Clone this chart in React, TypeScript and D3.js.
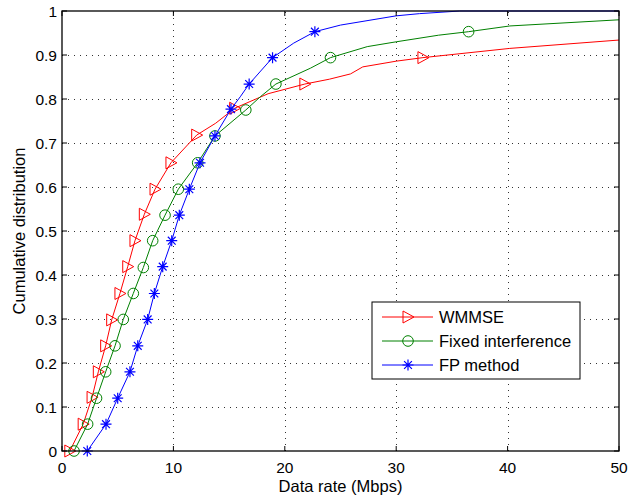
import React, { useEffect, useRef } from 'react';
import * as d3 from 'd3';

// series (x in Mbps, y = cumulative distribution)
const wmmseX = [0.7, 1.9, 2.7, 3.26, 3.92, 4.46, 5.2, 5.9, 6.55, 7.39, 8.35, 9.78, 12.09, 13.8, 15.5, 18.5, 21.8, 24, 25.9, 27, 30, 32.4, 40.2, 50];
const wmmseY = [0, 0.061, 0.122, 0.18, 0.239, 0.298, 0.358, 0.419, 0.478, 0.538, 0.595, 0.655, 0.718, 0.745, 0.779, 0.812, 0.834, 0.845, 0.857, 0.873, 0.886, 0.894, 0.915, 0.934];
const wmmseMarks = [0, 1, 2, 3, 4, 5, 6, 7, 8, 9, 10, 11, 12, 14, 16, 21];

const fixedX = [1.08, 2.3, 3.1, 3.92, 4.76, 5.5, 6.4, 7.3, 8.14, 9.25, 10.44, 12.18, 13.73, 16.5, 17.8, 19.2, 22.3, 24.1, 27.4, 30, 33.8, 36.5, 40.2, 50];
const fixedY = [0, 0.061, 0.12, 0.18, 0.239, 0.299, 0.358, 0.417, 0.478, 0.536, 0.595, 0.655, 0.716, 0.775, 0.805, 0.834, 0.87, 0.894, 0.919, 0.93, 0.945, 0.953, 0.966, 0.98];
const fixedMarks = [0, 1, 2, 3, 4, 5, 6, 7, 8, 9, 10, 11, 12, 13, 15, 17, 21];

const fpX = [2.27, 3.95, 5.0, 6.1, 6.8, 7.69, 8.29, 9.04, 9.85, 10.53, 11.43, 12.39, 13.73, 15.17, 16, 16.8, 18.9, 20.8, 22.7, 25, 30, 32.1, 35.7, 50];
const fpY = [0, 0.061, 0.12, 0.18, 0.239, 0.299, 0.358, 0.419, 0.478, 0.536, 0.595, 0.655, 0.716, 0.777, 0.805, 0.834, 0.894, 0.927, 0.953, 0.968, 0.989, 0.994, 1.0, 1.0];
const fpMarks = [0, 1, 2, 3, 4, 5, 6, 7, 8, 9, 10, 11, 12, 13, 15, 16, 18];

const xTicks = [0, 10, 20, 30, 40, 50];
const yTicks = [0, 0.1, 0.2, 0.3, 0.4, 0.5, 0.6, 0.7, 0.8, 0.9, 1];

const seriesNames = ['WMMSE', 'Fixed interference', 'FP method'];
const seriesColors = ['#ff0000', '#008000', '#0000ff'];
const seriesMarkers = ['triangle', 'circle', 'star'];

const W = 630;
const H = 495;
const margin = { left: 62, right: 11, top: 11, bottom: 44 };
const FONT = '"Liberation Sans", Arial, Helvetica, sans-serif';

function drawMarker(g: any, kind: string, x: number, y: number, color: string) {
  if (kind === 'triangle') {
    g.append('path')
      .attr('d', `M${x - 5},${y - 6}L${x + 6},${y}L${x - 5},${y + 6}Z`)
      .attr('fill', 'none').attr('stroke', color).attr('stroke-width', 1);
  } else if (kind === 'circle') {
    g.append('circle').attr('cx', x).attr('cy', y).attr('r', 5.3)
      .attr('fill', 'none').attr('stroke', color).attr('stroke-width', 1);
  } else {
    const r = 5.5, d = 3.9;
    g.append('path')
      .attr('d', `M${x - r},${y}L${x + r},${y}M${x},${y - r}L${x},${y + r}M${x - d},${y - d}L${x + d},${y + d}M${x - d},${y + d}L${x + d},${y - d}`)
      .attr('fill', 'none').attr('stroke', color).attr('stroke-width', 1.2);
  }
}

const App = () => {
  const svgRef = useRef<SVGSVGElement>(null);

  useEffect(() => {
    const svg = d3.select(svgRef.current);
    svg.selectAll('*').remove();

    const x = d3.scaleLinear().domain([0, 50]).range([margin.left, W - margin.right]);
    const y = d3.scaleLinear().domain([0, 1]).range([H - margin.bottom, margin.top]);
    const [x0, x1] = x.range();
    const [y0, y1] = y.range();

    // grid
    const grid = svg.append('g').attr('stroke', '#333').attr('stroke-width', 1)
      .attr('stroke-dasharray', '1,5').attr('shape-rendering', 'crispEdges');
    xTicks.slice(1, -1).forEach(t => {
      grid.append('line').attr('x1', Math.round(x(t)) + 0.5).attr('x2', Math.round(x(t)) + 0.5)
        .attr('y1', y0).attr('y2', y1);
    });
    yTicks.slice(1, -1).forEach(t => {
      grid.append('line').attr('x1', x0).attr('x2', x1)
        .attr('y1', Math.round(y(t)) + 0.5).attr('y2', Math.round(y(t)) + 0.5);
    });

    // series
    const sets = [
      { xs: wmmseX, ys: wmmseY, marks: wmmseMarks },
      { xs: fixedX, ys: fixedY, marks: fixedMarks },
      { xs: fpX, ys: fpY, marks: fpMarks },
    ];
    sets.forEach((s, si) => {
      const pts = s.xs.map((v, i) => [x(v), y(s.ys[i])] as [number, number]);
      svg.append('path')
        .attr('d', d3.line()(pts))
        .attr('fill', 'none').attr('stroke', seriesColors[si]).attr('stroke-width', 1);
      const mg = svg.append('g');
      s.marks.forEach(i => drawMarker(mg, seriesMarkers[si], pts[i][0], pts[i][1], seriesColors[si]));
    });

    // box and ticks
    svg.append('rect').attr('x', x0).attr('y', y1).attr('width', x1 - x0).attr('height', y0 - y1)
      .attr('fill', 'none').attr('stroke', '#000').attr('stroke-width', 1.3);
    const tk = svg.append('g').attr('stroke', '#000').attr('stroke-width', 1);
    xTicks.forEach(t => {
      tk.append('line').attr('x1', x(t)).attr('x2', x(t)).attr('y1', y0).attr('y2', y0 - 5);
      tk.append('line').attr('x1', x(t)).attr('x2', x(t)).attr('y1', y1).attr('y2', y1 + 5);
    });
    yTicks.forEach(t => {
      tk.append('line').attr('x1', x0).attr('x2', x0 + 5).attr('y1', y(t)).attr('y2', y(t));
      tk.append('line').attr('x1', x1).attr('x2', x1 - 5).attr('y1', y(t)).attr('y2', y(t));
    });

    const txt = svg.append('g').attr('font-family', FONT).attr('fill', '#000');
    xTicks.forEach(t => {
      txt.append('text').attr('x', x(t)).attr('y', y0 + 22).attr('text-anchor', 'middle')
        .attr('font-size', 15.5).text(String(t));
    });
    yTicks.forEach(t => {
      txt.append('text').attr('x', x0 - 5).attr('y', y(t) + 5.5).attr('text-anchor', 'end')
        .attr('font-size', 15.5).text(d3.format('~g')(t));
    });
    txt.append('text').attr('x', (x0 + x1) / 2).attr('y', 492).attr('text-anchor', 'middle')
      .attr('font-size', 16.5).text('Data rate (Mbps)');
    txt.append('text').attr('transform', `translate(25,${(y0 + y1) / 2}) rotate(-90)`)
      .attr('text-anchor', 'middle').attr('font-size', 16.5).text('Cumulative distribution');

    // legend
    const lg = svg.append('g');
    lg.append('rect').attr('x', 372).attr('y', 302).attr('width', 208).attr('height', 77)
      .attr('fill', '#fff').attr('stroke', '#000').attr('stroke-width', 1);
    seriesNames.forEach((name, i) => {
      const cy = 317 + i * 24;
      lg.append('line').attr('x1', 382).attr('x2', 433).attr('y1', cy).attr('y2', cy)
        .attr('stroke', seriesColors[i]).attr('stroke-width', 1);
      drawMarker(lg, seriesMarkers[i], 408, cy, seriesColors[i]);
      lg.append('text').attr('x', 439).attr('y', cy + 6).attr('font-family', FONT)
        .attr('font-size', 16.5).attr('fill', '#000').text(name);
    });
  }, []);

  return (
    <div style={{ position: 'absolute', left: 0, top: 0 }}>
      <svg ref={svgRef} width={W} height={H} style={{ display: 'block', background: '#fff' }} />
    </div>
  );
};

export default App;
